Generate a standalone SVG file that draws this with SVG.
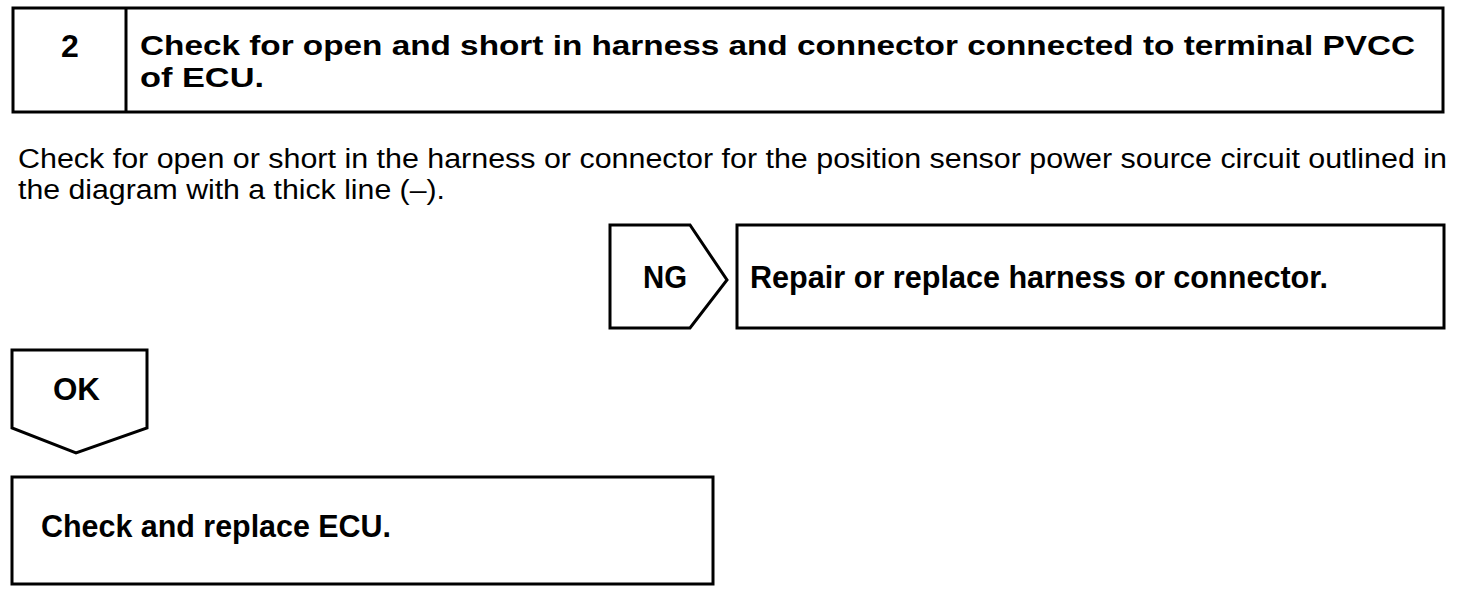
<svg xmlns="http://www.w3.org/2000/svg" width="1472" height="592" viewBox="0 0 1472 592">
<style>
.box{fill:#fff;stroke:#000;stroke-width:3}
.b{font-family:"Liberation Sans",Arial,sans-serif;font-weight:bold;font-size:32px;fill:#000}
.t{font-family:"Liberation Sans",Arial,sans-serif;font-weight:bold;font-size:28px;fill:#000}
.r{font-family:"Liberation Sans",Arial,sans-serif;font-size:27px;fill:#000}
</style>
<rect width="1472" height="592" fill="#fff"/>
<g id="header">
<rect class="box" x="13" y="8" width="1430" height="104"/>
<line x1="126" y1="8" x2="126" y2="112" stroke="#000" stroke-width="3"/>
<text class="b" x="70" y="57" text-anchor="middle">2</text>
<text class="t" x="140" y="55" textLength="1275" lengthAdjust="spacingAndGlyphs">Check for open and short in harness and connector connected to terminal PVCC</text>
<text class="t" x="140" y="87" textLength="124" lengthAdjust="spacingAndGlyphs">of ECU.</text>
</g>
<g id="description">
<text class="r" x="18" y="168" textLength="1429" lengthAdjust="spacingAndGlyphs">Check for open or short in the harness or connector for the position sensor power source circuit outlined in</text>
<text class="r" x="18" y="199" textLength="427" lengthAdjust="spacingAndGlyphs">the diagram with a thick line (–).</text>
</g>
<g id="connectors">
<g id="ng">
<polygon class="box" points="610,225 690,225 727,280 690,328 610,328"/>
<text class="b" x="643" y="288" textLength="44" lengthAdjust="spacingAndGlyphs">NG</text>
</g>
<g id="ok">
<polygon class="box" points="12,350 147,350 147,428 76,453 12,428"/>
<text class="b" x="53" y="400" textLength="47" lengthAdjust="spacingAndGlyphs">OK</text>
</g>
</g>
<g id="repair">
<rect class="box" x="737" y="225" width="707" height="103"/>
<text class="b" x="750" y="288" textLength="578" lengthAdjust="spacingAndGlyphs">Repair or replace harness or connector.</text>
</g>
<g id="ecu">
<rect class="box" x="12" y="477" width="701" height="107"/>
<text class="b" x="41" y="537" textLength="350" lengthAdjust="spacingAndGlyphs">Check and replace ECU.</text>
</g>
</svg>
